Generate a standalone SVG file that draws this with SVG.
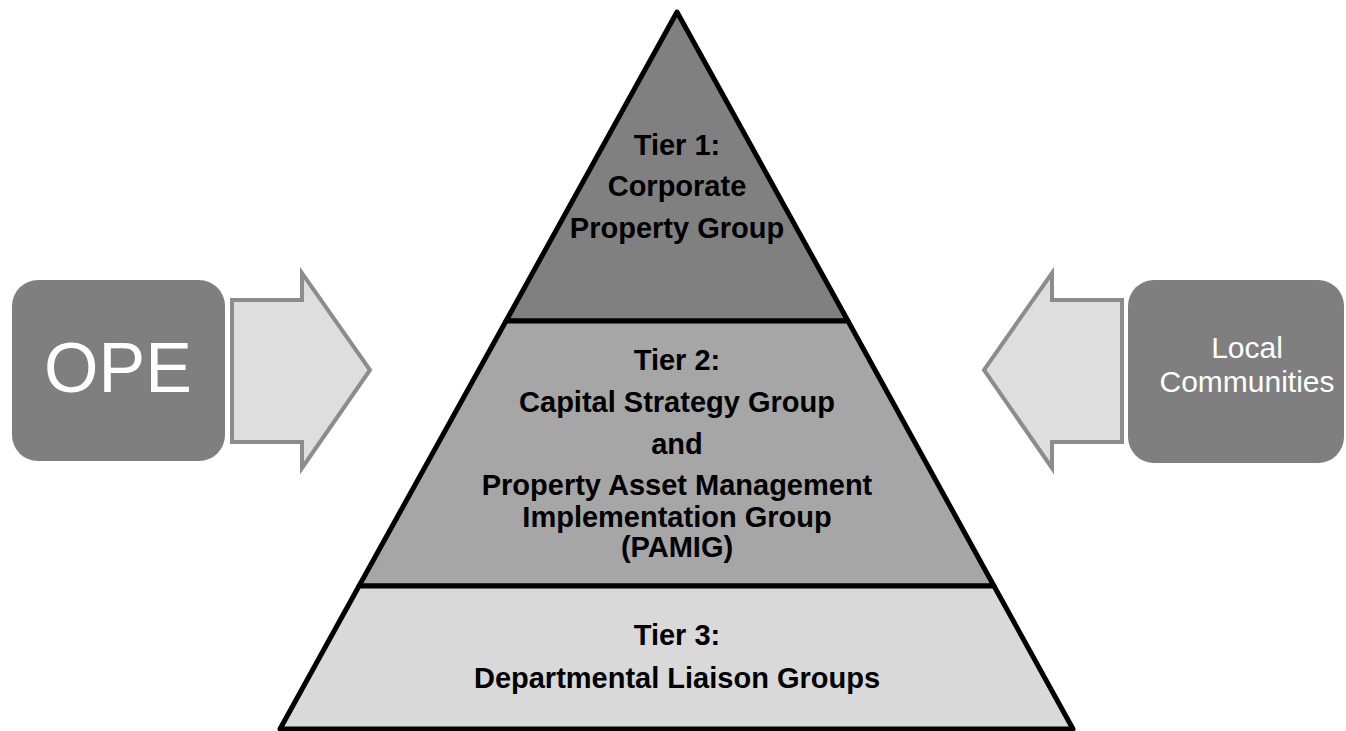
<svg xmlns="http://www.w3.org/2000/svg" width="1346" height="731" viewBox="0 0 1346 731">
<style>
.tier{stroke:#000;stroke-width:5;stroke-linejoin:round}
.t{font-family:"Liberation Sans",Arial,sans-serif;font-weight:bold;font-size:29px;fill:#000;text-anchor:middle}
.box{fill:#7f7f7f}
.bt{font-family:"Liberation Sans",Arial,sans-serif;fill:#fff;text-anchor:middle}
.arrow{fill:#dedede;stroke:#8c8c8c;stroke-width:4;stroke-linejoin:miter}
</style>
<rect width="1346" height="731" fill="#fff"/>
<g id="tier1">
<polygon class="tier" fill="#808080" points="677,12 848,321 506,321"/>
<text class="t" x="677" y="155">Tier 1:</text>
<text class="t" x="677" y="196">Corporate</text>
<text class="t" x="677" y="238">Property Group</text>
</g>
<g id="tier2">
<polygon class="tier" fill="#a6a6a6" points="506,321 848,321 994,586 359,586"/>
<text class="t" x="677" y="370">Tier 2:</text>
<text class="t" x="677" y="412">Capital Strategy Group</text>
<text class="t" x="677" y="454">and</text>
<text class="t" x="677" y="495">Property Asset Management</text>
<text class="t" x="677" y="527">Implementation Group</text>
<text class="t" x="677" y="557">(PAMIG)</text>
</g>
<g id="tier3">
<polygon class="tier" fill="#d9d9d9" points="359,586 994,586 1073,729 280,729"/>
<text class="t" x="677" y="645">Tier 3:</text>
<text class="t" x="677" y="688">Departmental Liaison Groups</text>
</g>
<g id="ope">
<rect class="box" x="12" y="280" width="213" height="181" rx="26" ry="26"/>
<text class="bt" x="118" y="392" font-size="70">OPE</text>
</g>
<g id="local-communities">
<rect class="box" x="1128" y="280" width="216" height="183" rx="26" ry="26"/>
<text class="bt" x="1247" y="358" font-size="30">Local</text>
<text class="bt" x="1247" y="392" font-size="30">Communities</text>
</g>
<g id="connectors">
<polygon class="arrow" points="232,300 302,300 302,273 370,370 302,468 302,442 232,442"/>
<polygon class="arrow" points="1122,300 1052,300 1052,273 984,370 1052,468 1052,442 1122,442"/>
</g>
</svg>
